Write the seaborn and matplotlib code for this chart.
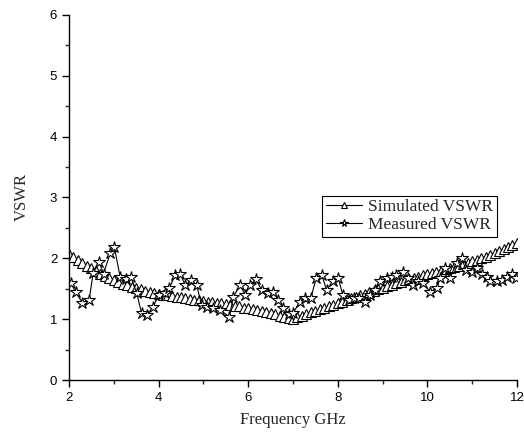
import numpy as np
import pandas as pd
import seaborn as sns
import matplotlib.pyplot as plt
from matplotlib.ticker import MultipleLocator

# simulated VSWR at 0.1 GHz steps
freq_sim = [2.0, 2.1, 2.2, 2.3, 2.4, 2.5, 2.6, 2.7, 2.8, 2.9,
            3.0, 3.1, 3.2, 3.3, 3.4, 3.5, 3.6, 3.7, 3.8, 3.9,
            4.0, 4.1, 4.2, 4.3, 4.4, 4.5, 4.6, 4.7, 4.8, 4.9,
            5.0, 5.1, 5.2, 5.3, 5.4, 5.5, 5.6, 5.7, 5.8, 5.9,
            6.0, 6.1, 6.2, 6.3, 6.4, 6.5, 6.6, 6.7, 6.8, 6.9,
            7.0, 7.1, 7.2, 7.3, 7.4, 7.5, 7.6, 7.7, 7.8, 7.9,
            8.0, 8.1, 8.2, 8.3, 8.4, 8.5, 8.6, 8.7, 8.8, 8.9,
            9.0, 9.1, 9.2, 9.3, 9.4, 9.5, 9.6, 9.7, 9.8, 9.9,
            10.0, 10.1, 10.2, 10.3, 10.4, 10.5, 10.6, 10.7, 10.8, 10.9,
            11.0, 11.1, 11.2, 11.3, 11.4, 11.5, 11.6, 11.7, 11.8, 11.9, 12.0]
vswr_sim = [2.07, 2.02, 1.97, 1.93, 1.88, 1.84, 1.79, 1.75, 1.71, 1.67,
            1.64, 1.61, 1.58, 1.56, 1.53, 1.51, 1.49, 1.47, 1.45, 1.43,
            1.42, 1.40, 1.39, 1.38, 1.37, 1.36, 1.34, 1.33, 1.32, 1.31,
            1.30, 1.29, 1.28, 1.27, 1.26, 1.25, 1.24, 1.22, 1.21, 1.19,
            1.18, 1.16, 1.15, 1.13, 1.12, 1.10, 1.08, 1.06, 1.04, 1.02,
            1.00, 1.03, 1.06, 1.08, 1.11, 1.13, 1.16, 1.18, 1.21, 1.23,
            1.26, 1.29, 1.31, 1.34, 1.36, 1.39, 1.41, 1.44, 1.46, 1.49,
            1.51, 1.54, 1.56, 1.59, 1.61, 1.64, 1.66, 1.68, 1.70, 1.72,
            1.74, 1.76, 1.78, 1.80, 1.82, 1.84, 1.86, 1.88, 1.90, 1.92,
            1.95, 1.97, 2.00, 2.03, 2.06, 2.09, 2.12, 2.15, 2.18, 2.22, 2.26]

# measured VSWR
freq_meas = [2.04, 2.15, 2.30, 2.45, 2.54, 2.67, 2.77, 2.92, 3.01, 3.14,
             3.27, 3.38, 3.51, 3.62, 3.75, 3.88, 4.00, 4.14, 4.24, 4.37,
             4.48, 4.59, 4.72, 4.85, 4.96, 5.07, 5.22, 5.37, 5.58, 5.67,
             5.82, 5.93, 6.04, 6.17, 6.30, 6.45, 6.56, 6.67, 6.78, 6.90,
             7.00, 7.16, 7.27, 7.40, 7.52, 7.64, 7.75, 7.89, 8.01, 8.11,
             8.24, 8.36, 8.48, 8.61, 8.72, 8.83, 8.94, 9.09, 9.20, 9.31,
             9.46, 9.57, 9.68, 9.80, 9.91, 10.06, 10.21, 10.28, 10.39, 10.50,
             10.65, 10.77, 10.86, 10.99, 11.10, 11.21, 11.32, 11.40, 11.55, 11.66,
             11.77, 11.88, 11.98]
vswr_meas = [1.60, 1.44, 1.27, 1.32, 1.76, 1.94, 1.75, 2.08, 2.19, 1.70,
             1.66, 1.70, 1.43, 1.10, 1.07, 1.20, 1.40, 1.43, 1.51, 1.73,
             1.75, 1.56, 1.64, 1.56, 1.23, 1.20, 1.18, 1.15, 1.04, 1.37,
             1.56, 1.40, 1.56, 1.66, 1.48, 1.43, 1.45, 1.32, 1.18, 1.09,
             1.10, 1.29, 1.34, 1.35, 1.68, 1.73, 1.48, 1.62, 1.68, 1.40,
             1.32, 1.35, 1.34, 1.29, 1.40, 1.48, 1.62, 1.67, 1.70, 1.73,
             1.78, 1.67, 1.56, 1.62, 1.59, 1.45, 1.51, 1.67, 1.84, 1.67,
             1.92, 2.00, 1.81, 1.78, 1.84, 1.75, 1.70, 1.62, 1.62, 1.64,
             1.70, 1.75, 1.67]

sns.set_style("ticks")
plt.rcParams['font.family'] = ['Liberation Sans', 'DejaVu Sans']

fig = plt.figure(figsize=(5.24, 4.38), dpi=100)
ax = fig.add_axes([0.1317, 0.1324, 0.8549, 0.8334])

sns.lineplot(x=freq_sim, y=vswr_sim, ax=ax, color='black', linewidth=0.8,
             marker='^', markersize=7, markerfacecolor='white',
             markeredgecolor='black', markeredgewidth=0.8,
             label='Simulated VSWR', sort=False)
sns.lineplot(x=freq_meas, y=vswr_meas, ax=ax, color='black', linewidth=0.8,
             marker='*', markersize=9, markerfacecolor='white',
             markeredgecolor='black', markeredgewidth=0.8,
             label='Measured VSWR', sort=False)

ax.set_xlim(2, 12)
ax.set_ylim(0, 6)
ax.xaxis.set_major_locator(MultipleLocator(2))
ax.xaxis.set_minor_locator(MultipleLocator(1))
ax.yaxis.set_major_locator(MultipleLocator(1))
ax.yaxis.set_minor_locator(MultipleLocator(0.5))
ax.tick_params(which='major', direction='out', length=5, width=1, labelsize=9.5, colors='black')
ax.tick_params(which='minor', direction='out', length=3, width=1)
for side in ['left', 'bottom']:
    ax.spines[side].set_linewidth(1.0)
    ax.spines[side].set_color('black')
sns.despine(ax=ax)

ax.set_xlabel('Frequency GHz', family='Liberation Serif', fontsize=12, labelpad=6)
ax.set_ylabel('VSWR', family='Liberation Serif', fontsize=12, labelpad=14)

leg = ax.legend(loc='upper right', bbox_to_anchor=(0.955, 0.505), frameon=True,
                fancybox=False, edgecolor='black', framealpha=1,
                prop={'family': 'Liberation Serif', 'size': 12.5},
                handlelength=2.1, borderpad=0.2, labelspacing=0.1,
                handletextpad=0.35, borderaxespad=0, markerscale=0.6)
leg.get_frame().set_linewidth(0.8)

fig.savefig('out.png', dpi=100)
